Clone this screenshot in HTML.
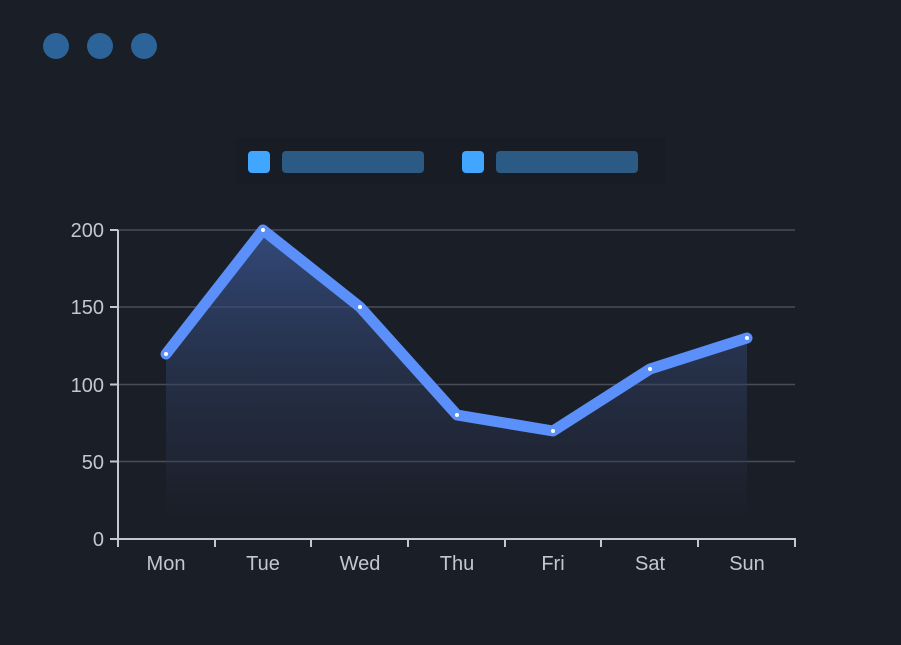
<!DOCTYPE html>
<html><head><style>
html,body{margin:0;padding:0;background:#1a1e27;}
svg{display:block;}
text{font-family:"Liberation Sans",sans-serif;fill:#c4c6d2;font-size:20px;}
</style></head><body>
<svg width="901" height="645" viewBox="0 0 901 645">
<defs>
<linearGradient id="g" x1="0" y1="230" x2="0" y2="539" gradientUnits="userSpaceOnUse">
<stop offset="0" stop-color="#3a5590" stop-opacity="0.8"/>
<stop offset="0.75" stop-color="#2a3550" stop-opacity="0.3"/>
<stop offset="1" stop-color="#1a1e27" stop-opacity="0"/>
</linearGradient>
</defs>
<rect width="901" height="645" fill="#1a1e27"/>
<circle cx="56" cy="46" r="13" fill="#2c6399"/>
<circle cx="100" cy="46" r="13" fill="#2c6399"/>
<circle cx="144" cy="46" r="13" fill="#2c6399"/>
<rect x="236" y="138" width="430" height="46" fill="#181c24"/>
<rect x="248" y="151" width="22" height="22" rx="4" fill="#40a6ff"/>
<rect x="282" y="151" width="142" height="22" rx="4" fill="#2b5a85"/>
<rect x="462" y="151" width="22" height="22" rx="4" fill="#40a6ff"/>
<rect x="496" y="151" width="142" height="22" rx="4" fill="#2b5a85"/>
<g stroke="#4a4c58" stroke-width="1.5">
<line x1="118" y1="230" x2="795" y2="230"/>
<line x1="118" y1="307" x2="795" y2="307"/>
<line x1="118" y1="384.5" x2="795" y2="384.5"/>
<line x1="118" y1="461.5" x2="795" y2="461.5"/>
</g>
<polygon fill="url(#g)" points="166,354 263,230 360,307 457,415 553,431 650,369 747,338 747,539 166,539"/>
<g stroke="#c4c6d2" stroke-width="2" fill="none">
<line x1="118" y1="230" x2="118" y2="540"/>
<line x1="117" y1="539" x2="796" y2="539"/>
<line x1="110" y1="230" x2="118" y2="230"/>
<line x1="110" y1="307" x2="118" y2="307"/>
<line x1="110" y1="384.5" x2="118" y2="384.5"/>
<line x1="110" y1="461.5" x2="118" y2="461.5"/>
<line x1="110" y1="539" x2="118" y2="539"/>
<line x1="118" y1="539" x2="118" y2="547"/>
<line x1="215" y1="539" x2="215" y2="547"/>
<line x1="311" y1="539" x2="311" y2="547"/>
<line x1="408" y1="539" x2="408" y2="547"/>
<line x1="505" y1="539" x2="505" y2="547"/>
<line x1="601" y1="539" x2="601" y2="547"/>
<line x1="698" y1="539" x2="698" y2="547"/>
<line x1="795" y1="539" x2="795" y2="547"/>
</g>
<polyline fill="none" stroke="#5b8ff9" stroke-width="11" stroke-linejoin="round" stroke-linecap="round" points="166,354 263,230 360,307 457,415 553,431 650,369 747,338"/>
<g fill="#fff">
<circle cx="166" cy="354" r="2"/><circle cx="263" cy="230" r="2"/><circle cx="360" cy="307" r="2"/><circle cx="457" cy="415" r="2"/><circle cx="553" cy="431" r="2"/><circle cx="650" cy="369" r="2"/><circle cx="747" cy="338" r="2"/>
</g>
<g text-anchor="end">
<text x="104" y="237">200</text>
<text x="104" y="314">150</text>
<text x="104" y="392">100</text>
<text x="104" y="469">50</text>
<text x="104" y="546">0</text>
</g>
<g text-anchor="middle">
<text x="166" y="570">Mon</text>
<text x="263" y="570">Tue</text>
<text x="360" y="570">Wed</text>
<text x="457" y="570">Thu</text>
<text x="553" y="570">Fri</text>
<text x="650" y="570">Sat</text>
<text x="747" y="570">Sun</text>
</g>
</svg>
</body></html>
